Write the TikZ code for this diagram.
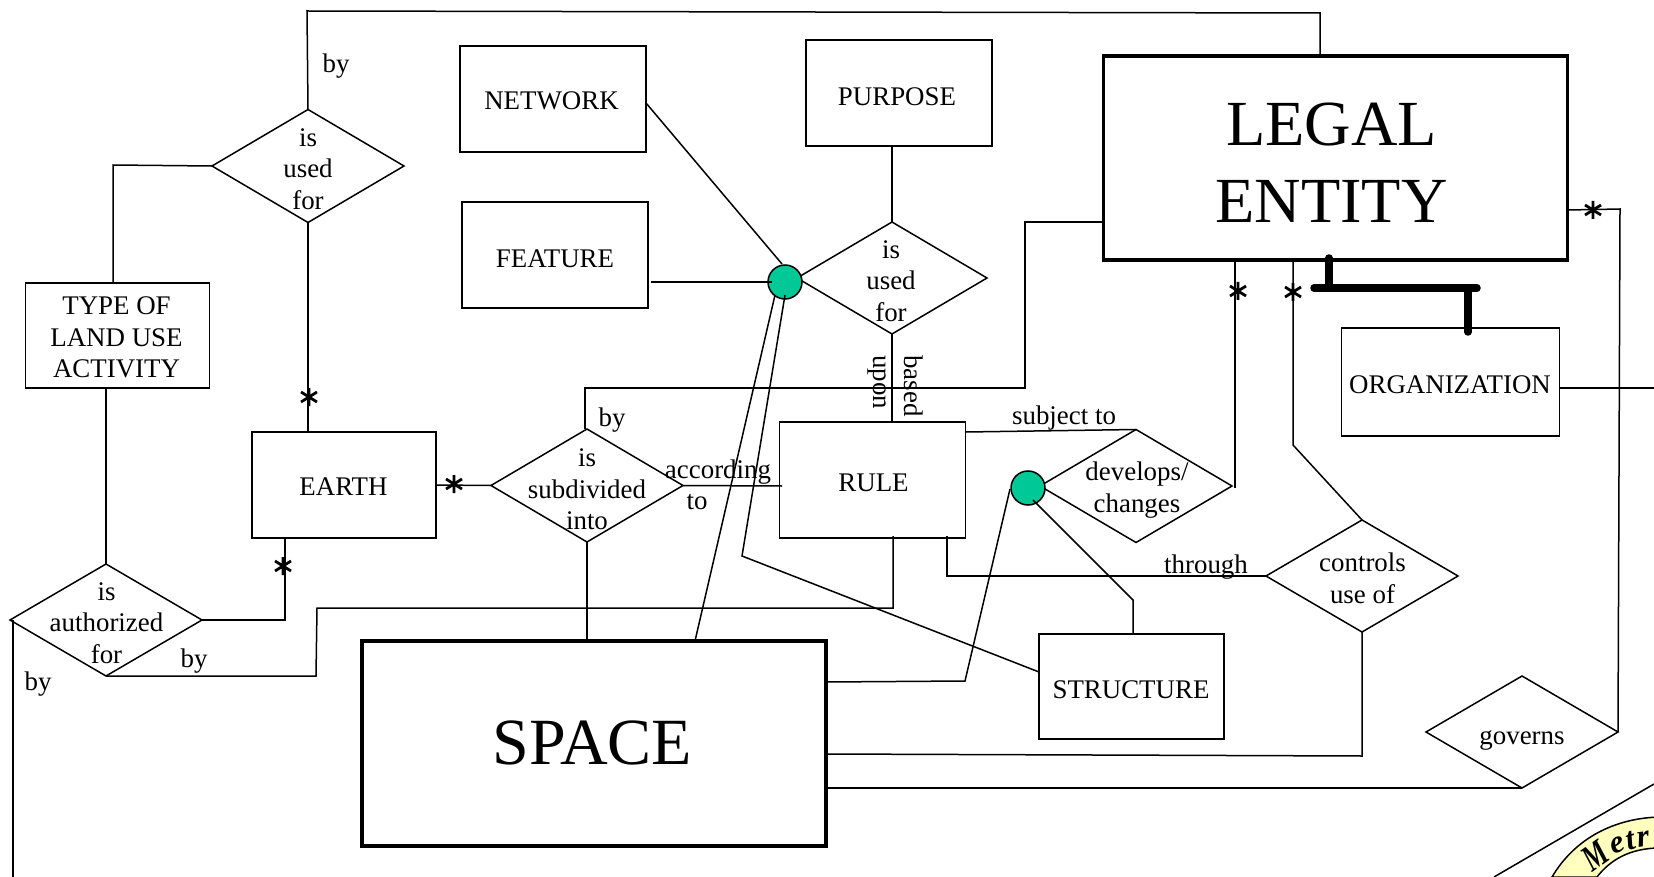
\documentclass[tikz,border=0pt]{standalone}
\usepackage{fontspec}
\setmainfont{Liberation Serif}
\usetikzlibrary{shapes.geometric}
\definecolor{dotgreen}{RGB}{0,200,150}
\definecolor{sealyellow}{RGB}{255,255,190}
\tikzset{
  box/.style={draw,line width=1.5pt,rectangle,inner sep=0pt,outer sep=0pt},
  bigbox/.style={box,line width=3.6pt},
  dia/.style={draw,line width=1.5pt,diamond,inner sep=0pt,outer sep=0pt},
  lbl/.style={inner sep=0pt,align=center,font=\fontsize{26.9}{31.6}\selectfont},
  biglbl/.style={inner sep=0pt,align=center,font=\fontsize{64.3}{77}\selectfont},
  wire/.style={line width=1.5pt},
  thickwire/.style={line width=7.5pt,line cap=round},
  dot/.style={draw,line width=1.5pt,fill=dotgreen,circle,minimum size=34pt,inner sep=0pt,outer sep=0pt},
  sealtxt/.style={inner sep=0pt,font=\fontsize{32}{32}\bfseries\itshape\selectfont},
  starmark/.pic={\draw[line width=2.8pt] (0,-9)--(0,9) (-8,-5)--(8,5) (-8,5)--(8,-5);}
}
\begin{document}
\begin{tikzpicture}[x=1pt,y=-1pt]
\useasboundingbox (0,0) rectangle (1654,877);
% seal
\begin{scope}
\clip (0,0) rectangle (1654,877);
\coordinate (z1) at (1494,877);
\coordinate (z2) at (1654,784);
\draw[wire] (z1) -- (z2);
\draw[line width=1.5pt,fill=sealyellow] (1552,877) .. controls (1575,838) and (1615,818) .. (1660,817) -- (1660,848) .. controls (1630,848) and (1610,860) .. (1597,877) -- cycle;
\node[rotate=35,sealtxt,font=\fontsize{37}{37}\bfseries\itshape\selectfont] (sm) at (1595,856) {\scalebox{0.72}[1]{M}};
\node[rotate=20,sealtxt] (se) at (1618,845) {e};
\node[rotate=14,sealtxt] (st) at (1631,841) {t};
\node[rotate=8,sealtxt] (sr) at (1644,839) {r};
\end{scope}
% boxes
\node[box,minimum width=186pt,minimum height=106pt] (network) at (553,99) {};
\node[lbl] (networkt) at (551.5,101) {NETWORK};
\node[box,minimum width=186pt,minimum height=106pt] (purpose) at (899,93) {};
\node[lbl] (purposet) at (897,97) {PURPOSE};
\node[box,minimum width=186pt,minimum height=106pt] (feature) at (555,255) {};
\node[lbl] (featuret) at (555,259) {FEATURE};
\node[box,minimum width=184pt,minimum height=105pt] (landuse) at (117.5,335.5) {};
\node[lbl] (landuset) at (116.5,337.5) {TYPE OF\\LAND USE\\ACTIVITY};
\node[box,minimum width=184pt,minimum height=106pt] (earth) at (344,485) {};
\node[lbl] (eartht) at (343.5,487) {EARTH};
\node[box,minimum width=186pt,minimum height=116pt] (rule) at (872.5,480) {};
\node[lbl] (rulet) at (873.5,483) {RULE};
\node[box,minimum width=218pt,minimum height=108pt] (org) at (1450.5,382) {};
\node[lbl] (orgt) at (1450,385) {ORGANIZATION};
\node[box,minimum width=185pt,minimum height=105pt] (structure) at (1131.5,686.5) {};
\node[lbl] (structuret) at (1131,689.5) {STRUCTURE};
\node[bigbox,minimum width=464pt,minimum height=204pt] (legal) at (1335.5,158) {};
\node[biglbl] (legalt) at (1331.5,163) {LEGAL\\ENTITY};
\node[bigbox,minimum width=464pt,minimum height=205pt] (space) at (594,743.5) {};
\node[biglbl,font=\fontsize{66}{77}\selectfont] (spacet) at (592.5,742.5) {SPACE};
% diamonds
\node[dia,minimum width=192pt,minimum height=113pt] (dtop) at (308,166) {};
\node[lbl] (dtopt) at (308,169) {is\\used\\for};
\node[dia,minimum width=190pt,minimum height=112pt] (dmid) at (892,278) {};
\node[lbl] (dmidt) at (891,281) {is\\used\\for};
\node[dia,minimum width=192pt,minimum height=113pt] (dsub) at (587,485.5) {};
\node[lbl] (dsubt) at (587,489.5) {is\\subdivided\\into};
\node[dia,minimum width=192pt,minimum height=113pt] (ddev) at (1136,486) {};
\node[lbl] (ddevt) at (1137,490) {develops/\\changes};
\node[dia,minimum width=192pt,minimum height=112pt] (dauth) at (106,620) {};
\node[lbl] (dautht) at (106.5,623) {is\\authorized\\for};
\node[dia,minimum width=192pt,minimum height=112pt] (dctrl) at (1362,576) {};
\node[lbl] (dctrlt) at (1362.5,578.5) {controls\\use of};
\node[dia,minimum width=192pt,minimum height=112pt] (dgov) at (1522,732) {};
\node[lbl] (dgovt) at (1522,740) {governs};
% dots
\node[dot] (dot1) at (785,282) {};
\node[dot] (dot2) at (1028,488) {};
% waypoints
\coordinate (a1) at (307,11);
\coordinate (a2) at (1320,13);
\coordinate (a3) at (1320,56);
\coordinate (b1) at (113,165);
\coordinate (b2) at (113,283);
\coordinate (c1) at (1103,222);
\coordinate (c2) at (1025,222);
\coordinate (c3) at (1025,388);
\coordinate (c4) at (585,388);
\coordinate (d1) at (782,486);
\coordinate (e1) at (285,620);
\coordinate (e2) at (285,538);
\coordinate (f1) at (316,676);
\coordinate (f2) at (317,608);
\coordinate (f3) at (893,608);
\coordinate (f4) at (893,536);
\coordinate (g1) at (13,620);
\coordinate (g2) at (13,877);
\coordinate (h1) at (742,556);
\coordinate (h2) at (1039,672);
\coordinate (h3) at (695,641);
\coordinate (i1) at (826,682);
\coordinate (i2) at (965,681);
\coordinate (i3) at (1010,489);
\coordinate (j0) at (1033,500);
\coordinate (j1) at (1133,600);
\coordinate (j2) at (1133,634);
\coordinate (k1) at (1235,260);
\coordinate (k2) at (1235,488);
\coordinate (l1) at (1293,260);
\coordinate (l2) at (1293,445);
\coordinate (m1) at (947,536);
\coordinate (m2) at (947,576);
\coordinate (n1) at (1362,756);
\coordinate (n2) at (826,754);
\coordinate (o1) at (826,788);
\coordinate (p1) at (1620,209);
\coordinate (p2) at (1568,210);
\coordinate (q0) at (1560,388);
\coordinate (q1) at (1654,388);
\coordinate (r1) at (966,432);
\coordinate (s1) at (646,103);
\coordinate (s2) at (782,264);
\coordinate (s3) at (651,282);
\coordinate (s4) at (772,282);
\coordinate (t1) at (775,295);
\coordinate (t2) at (785,295);
% connectors
\draw[wire] (dtop.north) -- (a1) -- (a2) -- (a3);
\draw[wire] (dtop.west) -- (b1) -- (b2);
\draw[wire] (dtop.south) -- (dtop.south |- earth.north);
\draw[wire] (s1) -- (s2);
\draw[wire] (s3) -- (s4);
\draw[wire] (purpose.south -| dmid.north) -- (dmid.north);
\draw[wire] (dmid.south) -- (dmid.south |- rule.north);
\draw[wire] (c1) -- (c2) -- (c3) -- (c4) -- (c4 |- dsub.north);
\draw[wire] (earth.east) -- (dsub.west);
\draw[wire] (dsub.east) -- (d1);
\draw[wire] (dsub.south) -- (dsub.south |- space.north);
\draw[wire] (dauth.north) -- (dauth.north |- landuse.south);
\draw[wire] (dauth.east) -- (e1) -- (e2);
\draw[wire] (dauth.south) -- (f1) -- (f2) -- (f3) -- (f4);
\draw[wire] (g1) -- (g2);
\draw[wire] (t1) -- (h3);
\draw[wire] (t2) -- (h1) -- (h2);
\draw[wire] (i1) -- (i2) -- (i3);
\draw[wire] (r1) -- (ddev.north);
\draw[wire] (j0) -- (j1) -- (j2);
\draw[wire] (k1) -- (k2);
\draw[wire] (l1) -- (l2) -- (dctrl.north);
\draw[wire] (m1) -- (m2) -- (dctrl.west);
\draw[wire] (dctrl.south) -- (n1) -- (n2);
\draw[wire] (o1) -- (dgov.south);
\draw[wire] (dgov.east) -- (p1) -- (p2);
\draw[wire] (q0) -- (q1);
% thick link
\coordinate (u1) at (1329,258);
\coordinate (u2) at (1329,288);
\coordinate (u3) at (1314,288);
\coordinate (u4) at (1477,288);
\coordinate (u5) at (1468,288);
\coordinate (u6) at (1468,332);
\draw[thickwire] (u1) -- (u2);
\draw[thickwire] (u3) -- (u4);
\draw[thickwire] (u5) -- (u6);
% stars
\pic at (309,397) {starmark};
\pic at (454,484) {starmark};
\pic at (283,566) {starmark};
\pic at (1238,291) {starmark};
\pic at (1293,292) {starmark};
\pic at (1593,210) {starmark};
% labels
\node[lbl] (lby1) at (336,66) {by};
\node[lbl] (lby2) at (612,420) {by};
\node[lbl] (lby3) at (194,661) {by};
\node[lbl] (lby4) at (38,684) {by};
\node[lbl] (lacc) at (718,472) {according};
\node[lbl] (lto) at (697,502) {to};
\node[lbl] (lsub) at (1064,418) {subject to};
\node[lbl] (lthr) at (1206,567) {through};
\node[lbl,rotate=-90] (lbased) at (914,386) {based};
\node[lbl,rotate=-90] (lupon) at (877,382) {upon};
\end{tikzpicture}
\end{document}
